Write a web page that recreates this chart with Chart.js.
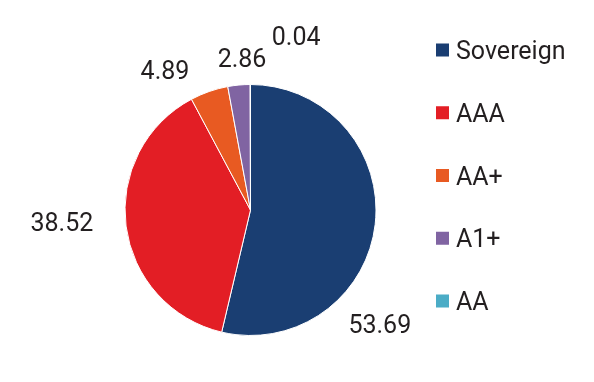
<!DOCTYPE html>
<html>
<head>
<meta charset="utf-8">
<script src="https://cdn.jsdelivr.net/npm/chart.js@4/dist/chart.umd.min.js"></script>
<style>
html,body{margin:0;padding:0;background:#fff;}
#wrap{width:594px;height:382px;position:relative;}
</style>
</head>
<body>
<div id="wrap"><canvas id="c" width="594" height="382"></canvas></div>
<script>
const categories = ["Sovereign", "AAA", "AA+", "A1+", "AA"];
const values = [53.69, 38.52, 4.89, 2.86, 0.04];
const valueLabels = ["53.69", "38.52", "4.89", "2.86", "0.04"];
const colors = ["#1a3e72", "#e31e25", "#e85a22", "#8064a2", "#4bacc6"];

// label placement relative to each arc: angle shift (deg) from mid-angle, distance from centre
const labelStyle = {
  angleShift: [34.8, 3.6, -12.2, 2.1, 14.8],
  distance: [172.5, 189, 164, 152.7, 179.4],
  font: "25px Roboto",
  color: "#231f20"
};

const overlay = {
  id: "overlay",
  afterDraw(chart) {
    const ctx = chart.ctx;
    const meta = chart.getDatasetMeta(0);
    ctx.save();
    ctx.font = labelStyle.font;
    ctx.fillStyle = labelStyle.color;
    ctx.textAlign = "center";
    ctx.textBaseline = "alphabetic";
    meta.data.forEach((arc, i) => {
      const p = arc.getProps(["x", "y", "startAngle", "endAngle"], true);
      const mid = (p.startAngle + p.endAngle) / 2 + labelStyle.angleShift[i] * Math.PI / 180;
      const r = labelStyle.distance[i];
      const x = p.x + Math.cos(mid) * r;
      const y = p.y + Math.sin(mid) * r;
      ctx.fillText(valueLabels[i], x, y + 9);
    });
    // legend
    const lx = 436, ly = 50, step = 62.75, box = 13;
    ctx.textAlign = "left";
    chart.data.labels.forEach((lab, i) => {
      const cy = ly + step * i;
      ctx.fillStyle = colors[i];
      ctx.fillRect(lx, cy - box / 2, box, box);
      ctx.fillStyle = labelStyle.color;
      ctx.fillText(lab, lx + 20, cy + 9);
    });
    ctx.restore();
  }
};

new Chart(document.getElementById("c"), {
  type: "pie",
  data: {
    labels: categories,
    datasets: [{
      data: values,
      backgroundColor: colors,
      borderColor: "#ffffff",
      borderWidth: 1
    }]
  },
  options: {
    responsive: false,
    animation: false,
    layout: { padding: { left: 124, top: 84, right: 217, bottom: 46 } },
    plugins: { legend: { display: false }, tooltip: { enabled: false } }
  },
  plugins: [overlay]
});
</script>
</body>
</html>
